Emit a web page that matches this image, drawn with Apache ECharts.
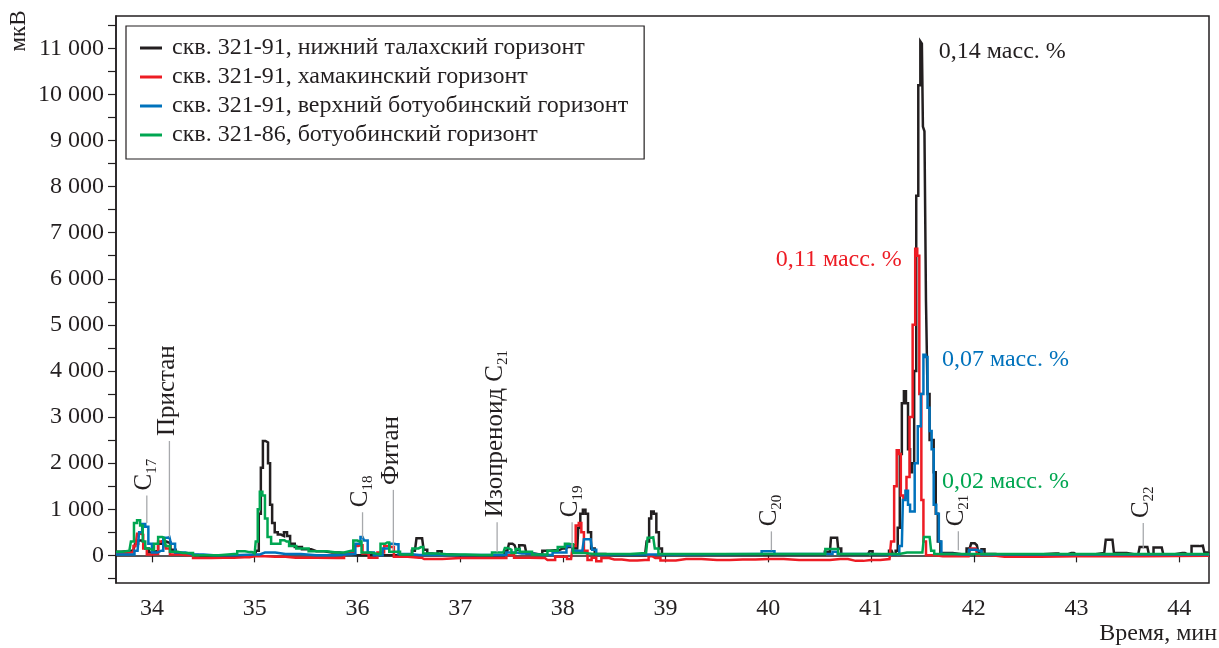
<!DOCTYPE html>
<html>
<head>
<meta charset="utf-8">
<script src="https://cdn.jsdelivr.net/npm/echarts@6/dist/echarts.min.js"></script>
<style>
  html, body { margin: 0; padding: 0; background: #fff; }
  #chart { width: 1219px; height: 648px; }
</style>
</head>
<body>
<div id="chart"></div>
<script>
// chromatogram traces, [time (min), signal (мкВ)]
var blackData = [[33.65,80],[33.75,90],[33.82,110],[33.85,250],[33.88,320],[33.92,300],[33.95,150],[33.99,60],[34.04,90],[34.08,250],[34.12,300],[34.16,280],[34.2,120],[34.26,40],[34.4,10],[34.5,-30],[34.8,-30],[35.0,-10],[35.03,100],[35.05,900],[35.07,1900],[35.09,2480],[35.12,2450],[35.14,2000],[35.16,1100],[35.18,700],[35.21,500],[35.24,450],[35.27,420],[35.3,500],[35.33,420],[35.36,250],[35.42,180],[35.5,130],[35.6,90],[35.75,60],[35.9,30],[36.0,0],[36.5,10],[36.56,100],[36.59,370],[36.63,370],[36.66,120],[36.7,40],[36.76,30],[36.8,90],[36.84,20],[37.0,0],[37.4,0],[37.46,100],[37.49,250],[37.53,220],[37.56,120],[37.59,220],[37.63,210],[37.66,40],[37.78,20],[37.82,100],[37.92,110],[38.0,150],[38.05,180],[38.1,220],[38.14,150],[38.16,600],[38.18,900],[38.21,990],[38.23,900],[38.26,500],[38.29,150],[38.33,30],[38.5,10],[38.8,10],[38.83,300],[38.85,800],[38.87,950],[38.9,900],[38.92,500],[38.95,150],[38.98,20],[39.5,20],[40.5,20],[40.6,80],[40.62,380],[40.67,380],[40.69,150],[40.73,20],[40.97,20],[41.0,90],[41.03,20],[41.15,20],[41.2,100],[41.23,20],[41.25,100],[41.27,600],[41.29,2200],[41.31,3300],[41.33,3560],[41.35,3300],[41.37,2300],[41.39,1800],[41.41,2000],[41.43,4000],[41.45,7800],[41.47,10200],[41.49,11150],[41.5,11100],[41.51,9300],[41.53,9200],[41.54,5500],[41.56,3500],[41.58,2500],[41.6,2500],[41.62,1800],[41.64,900],[41.66,300],[41.69,50],[41.9,20],[41.96,150],[41.99,260],[42.03,220],[42.06,60],[42.09,130],[42.12,30],[42.3,10],[42.8,40],[42.85,10],[42.95,50],[43.0,10],[43.27,50],[43.3,340],[43.35,340],[43.38,50],[43.6,10],[43.63,180],[43.69,180],[43.72,20],[43.78,170],[43.83,170],[43.86,20],[44.03,50],[44.08,20],[44.16,200],[44.23,210],[44.26,60],[44.29,40]];
var redData = [[33.65,50],[33.8,60],[33.84,200],[33.87,470],[33.9,450],[33.93,150],[33.97,20],[34.04,30],[34.08,300],[34.12,320],[34.15,150],[34.2,20],[34.35,0],[34.45,-60],[34.7,-50],[34.9,-40],[35.0,-20],[35.2,-30],[35.4,-50],[35.8,-60],[35.94,50],[35.98,200],[36.03,220],[36.07,40],[36.15,-50],[36.24,60],[36.28,200],[36.33,180],[36.38,-30],[36.6,-50],[36.65,-80],[37.0,-60],[37.4,-60],[37.5,0],[37.55,-50],[37.8,-60],[37.85,-100],[38.0,-30],[38.08,-80],[38.11,200],[38.14,650],[38.17,700],[38.19,500],[38.22,100],[38.26,-100],[38.3,-50],[38.35,-130],[38.4,-60],[38.5,-90],[38.65,-110],[38.8,-100],[38.87,-20],[38.9,-60],[39.0,-110],[39.2,-80],[39.5,-100],[39.75,-90],[40.0,-80],[40.3,-100],[40.5,-100],[40.7,-80],[40.85,-120],[41.0,-100],[41.18,-80],[41.21,300],[41.24,1500],[41.26,2280],[41.28,2200],[41.3,1300],[41.33,1250],[41.36,1700],[41.39,3000],[41.42,5000],[41.44,6650],[41.46,6500],[41.48,3500],[41.5,1200],[41.52,300],[41.55,0],[41.7,-20],[41.95,-20],[41.98,150],[42.02,150],[42.05,0],[42.3,-30],[43.0,-20],[44.29,-10]];
var blueData = [[33.65,20],[33.8,20],[33.86,100],[33.89,500],[33.92,680],[33.95,620],[33.98,250],[34.02,60],[34.09,100],[34.13,380],[34.17,400],[34.2,250],[34.25,60],[34.4,20],[34.6,0],[35.0,20],[35.1,60],[35.3,30],[35.6,0],[35.95,30],[36.01,250],[36.05,400],[36.08,320],[36.12,60],[36.2,0],[36.29,150],[36.33,250],[36.38,240],[36.42,30],[36.6,10],[37.4,10],[37.5,60],[37.6,40],[37.8,10],[38.0,60],[38.07,200],[38.12,100],[38.19,100],[38.22,350],[38.27,350],[38.3,120],[38.35,20],[38.5,20],[39.9,30],[39.97,90],[40.04,90],[40.08,30],[40.6,30],[40.65,80],[40.7,30],[41.25,20],[41.3,200],[41.32,1200],[41.35,1400],[41.37,1100],[41.39,950],[41.41,950],[41.44,2000],[41.47,2800],[41.5,3500],[41.52,4350],[41.54,4300],[41.56,3200],[41.58,2700],[41.6,2300],[41.62,1100],[41.65,900],[41.67,300],[41.7,30],[41.9,20],[42.01,120],[42.05,100],[42.1,20],[44.29,20]];
var greenData = [[33.65,80],[33.78,100],[33.81,300],[33.84,700],[33.87,760],[33.9,650],[33.92,300],[33.95,150],[34.0,120],[34.04,250],[34.08,400],[34.12,380],[34.15,200],[34.2,80],[34.3,50],[34.5,0],[34.8,30],[34.86,90],[34.95,70],[35.0,40],[35.02,300],[35.04,1000],[35.06,1380],[35.09,1300],[35.11,800],[35.14,400],[35.18,250],[35.23,250],[35.27,330],[35.31,300],[35.36,200],[35.45,150],[35.6,90],[35.8,60],[35.94,100],[35.98,320],[36.02,300],[36.06,60],[36.2,30],[36.25,250],[36.29,280],[36.33,80],[36.5,20],[36.57,150],[36.62,180],[36.66,40],[36.9,20],[37.2,10],[37.42,60],[37.45,160],[37.48,120],[37.52,50],[37.56,140],[37.6,80],[37.8,20],[37.9,100],[38.0,180],[38.04,250],[38.08,240],[38.12,50],[38.3,30],[38.5,30],[38.81,50],[38.84,380],[38.88,390],[38.91,150],[38.95,30],[39.5,30],[40.5,30],[40.61,140],[40.66,140],[40.7,30],[41.2,30],[41.35,60],[41.5,60],[41.53,400],[41.57,400],[41.6,100],[41.63,30],[44.29,30]];

var seriesNames = ['скв. 321-91, нижний талахский горизонт', 'скв. 321-91, хамакинский горизонт', 'скв. 321-91, верхний ботуобинский горизонт', 'скв. 321-86, ботуобинский горизонт'];
var seriesColors = ['#231f20', '#ed1c24', '#0072bc', '#00a651'];

// axis ticks
var xTicks = [34, 35, 36, 37, 38, 39, 40, 41, 42, 43, 44];
var yLabels = [0, 1000, 2000, 3000, 4000, 5000, 6000, 7000, 8000, 9000, 10000, 11000];
var yTicks = [-500, 0, 500, 1000, 1500, 2000, 2500, 3000, 3500, 4000, 4500, 5000, 5500, 6000, 6500, 7000, 7500, 8000, 8500, 9000, 9500, 10000, 10500, 11000, 11500];

// peak annotations: name, time, line bottom, line top
var annoNames = ['{m|C}{s|17}', '{m|Пристан}', '{m|C}{s|18}', '{m|Фитан}', '{m|Изопреноид C}{s|21}', '{m|C}{s|19}', '{m|C}{s|20}', '{m|C}{s|21}', '{m|C}{s|22}'];
var annoTimes = [33.95, 34.17, 36.05, 36.35, 37.36, 38.09, 40.03, 41.85, 43.65];
var annoLow = [700, 390, 370, 110, 65, 170, 110, 110, 150];
var annoHigh = [1300, 2480, 935, 1420, 720, 720, 520, 520, 700];

// content labels near the main peak
var massTexts = ['0,14 масс. %', '0,11 масс. %', '0,07 масс. %', '0,02 масс. %'];
var massTimes = [41.66, 41.30, 41.69, 41.69];
var massValues = [10930, 6410, 4240, 1590];
var massAlign = ['left', 'right', 'left', 'left'];

var FONT = '"Liberation Serif", "Times New Roman", serif';
var chart = echarts.init(document.getElementById('chart'));

function fmt(v) {
  if (v >= 1000) return Math.floor(v / 1000) + ' ' + String(v % 1000).padStart(3, '0');
  return String(v);
}

var lineSeries = [blackData, redData, blueData, greenData].map(function (d, i) {
  return {
    name: seriesNames[i],
    type: 'line',
    data: d,
    step: 'middle',
    showSymbol: false,
    symbol: 'none',
    lineStyle: { width: 2.5, color: seriesColors[i], join: 'miter' },
    itemStyle: { color: seriesColors[i] },
    z: 2 + i
  };
});

var option = {
  animation: false,
  backgroundColor: '#fff',
  grid: {
    left: 116, right: 10, top: 16, bottom: 65,
    show: true, borderColor: '#231f20', borderWidth: 1.5
  },
  legend: {
    data: seriesNames,
    orient: 'vertical',
    left: 126, top: 26,
    padding: [10, 16, 12, 14],
    borderColor: '#231f20', borderWidth: 1.2,
    icon: 'rect', itemWidth: 22, itemHeight: 3, itemGap: 5,
    textStyle: { fontFamily: FONT, fontSize: 24, color: '#231f20', padding: [0, 0, 0, 5] }
  },
  xAxis: {
    type: 'value', min: 33.65, max: 44.29,
    axisLine: { show: true, lineStyle: { color: '#231f20', width: 1.5 } },
    axisTick: { show: true, length: 7, customValues: xTicks, lineStyle: { color: '#231f20', width: 1.2 } },
    axisLabel: { customValues: xTicks, fontFamily: FONT, fontSize: 24, color: '#231f20', margin: 14 },
    splitLine: { show: false }
  },
  yAxis: {
    type: 'value', min: -600, max: 11700,
    axisLine: { show: true, lineStyle: { color: '#231f20', width: 1.5 } },
    axisTick: { show: true, length: 8, customValues: yTicks, lineStyle: { color: '#231f20', width: 1.2 } },
    axisLabel: { customValues: yLabels, formatter: fmt, fontFamily: FONT, fontSize: 24, color: '#231f20', margin: 12 },
    splitLine: { show: false }
  },
  graphic: [
    { type: 'text', x: 19, y: 31, rotation: Math.PI / 2,
      style: { text: 'мкВ', fontFamily: FONT, fontSize: 23, fill: '#231f20', align: 'center', verticalAlign: 'middle' } },
    { type: 'text', right: 2, bottom: 2,
      style: { text: 'Время, мин', fontFamily: FONT, fontSize: 24, fill: '#231f20' } }
  ],
  series: lineSeries.concat([
    {
      type: 'custom',
      name: 'annotations',
      z: 10,
      data: annoTimes.map(function (t, i) { return [t, annoLow[i], annoHigh[i]]; }),
      renderItem: function (params, api) {
        var t = api.value(0);
        var lo = api.coord([t, api.value(1)]);
        var hi = api.coord([t, api.value(2)]);
        return {
          type: 'group',
          children: [
            { type: 'line', shape: { x1: lo[0], y1: lo[1], x2: hi[0], y2: hi[1] },
              style: { stroke: '#a7a9ac', lineWidth: 1.3 } },
            { type: 'text', x: hi[0] - 2, y: hi[1] - 5, rotation: Math.PI / 2,
              style: {
                text: annoNames[params.dataIndex],
                align: 'left', verticalAlign: 'middle',
                rich: {
                  m: { fontFamily: FONT, fontSize: 25, fill: '#231f20', lineHeight: 30, verticalAlign: 'middle' },
                  s: { fontFamily: FONT, fontSize: 15, fill: '#231f20', lineHeight: 30, verticalAlign: 'bottom' }
                }
              } }
          ]
        };
      }
    },
    {
      type: 'custom',
      name: 'content',
      z: 11,
      data: massTimes.map(function (t, i) { return [t, massValues[i]]; }),
      renderItem: function (params, api) {
        var p = api.coord([api.value(0), api.value(1)]);
        return {
          type: 'text', x: p[0], y: p[1],
          style: {
            text: massTexts[params.dataIndex],
            fontFamily: FONT, fontSize: 24,
            fill: seriesColors[params.dataIndex],
            align: massAlign[params.dataIndex], verticalAlign: 'middle'
          }
        };
      }
    }
  ])
};

chart.setOption(option);
window.addEventListener('resize', function () { chart.resize(); });
</script>
</body>
</html>
